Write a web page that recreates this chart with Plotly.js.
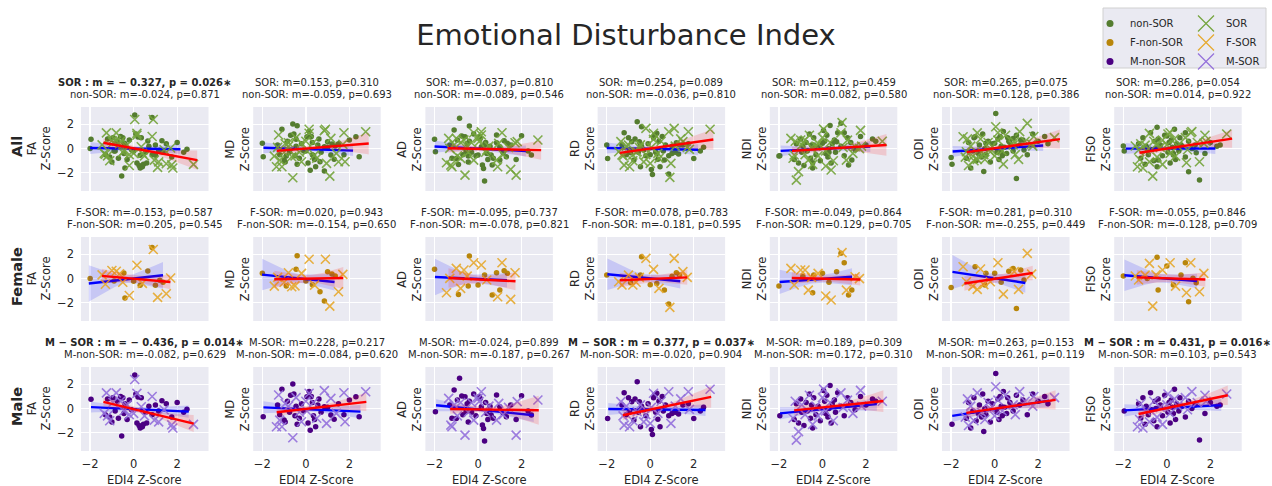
<!DOCTYPE html>
<html><head><meta charset="utf-8">
<script src="https://cdn.plot.ly/plotly-3.0.1.min.js"></script>
<style>body{margin:0;background:#fff}</style>
</head><body><div id="chart" style="width:1272px;height:486px"></div>
<script>
// ---------- DATA ----------
const metrics = ['FA','MD','AD','RD','NDI','ODI','FISO'];
const rowNames = ['All','Female','Male'];

// EDI4 z-scores (x) per group
const xFnon = [-2.0,-0.9,-0.45,-0.4,0.0,0.3,0.65,0.85,1.0,1.2,1.35];
const xFsor = [-1.45,-1.3,-1.0,-0.8,-0.65,-0.5,-0.2,0.15,0.4,0.9,1.1,1.5,1.7];
const xMnon = [-1.96,-1.3,-1.2,-1.1,-1.0,-0.95,-0.85,-0.75,-0.7,-0.6,-0.55,-0.5,-0.45,-0.4,-0.3,-0.2,-0.1,0.05,0.1,0.15,0.2,0.25,0.3,0.35,0.4,0.45,0.55,0.6,0.7,0.85,1.0,1.15,1.3,1.5,1.75,2.0,2.3,2.45];
const xMsor = [-1.35,-1.25,-1.2,-1.1,-0.95,-0.8,-0.6,-0.45,-0.3,-0.2,0.0,0.05,0.15,0.35,0.5,0.85,0.95,1.15,1.4,1.75,1.8,2.75];

// Female non-SOR z-scores
const faFnon = [0.0,-0.2,0.46,-1.6,-0.22,-0.55,0.63,2.56,-0.55,-0.14,-0.3];
const mdFnon = [0.43,-0.62,0.76,1.89,-0.2,-0.5,-1.09,-1.86,0.57,0.37,0.21];
const adFnon = [0.76,-1.31,-0.62,1.86,-0.53,0.3,-1.36,0.48,-0.95,0.65,0.43];
const rdFnon = [0.29,-0.34,0.3,1.81,-0.5,-0.4,-0.95,-2.1,0.2,0.48,0.29];
const ndiFnon = [-0.62,0.2,-1.17,0.3,0.43,-0.3,0.57,2.08,1.31,-1.36,-0.95];
const odiFnon = [-0.73,0.98,-0.53,0.43,0.43,-0.3,0.6,0.84,-2.46,0.71,-0.12];
const fisoFnon = [0.21,0.0,1.75,-0.95,1.04,-0.53,0.3,1.31,-1.91,0.02,-0.34];
// Female SOR
const faFsor = [0.3,-0.47,0.67,0.6,0.4,-0.3,-1.4,1.1,-0.4,2.4,-1.55,-1.25,0.05];
const mdFsor = [-0.62,0.1,-0.3,0.48,-0.67,-0.6,0.43,1.59,-0.54,1.59,-2.27,-1.09,0.35];
const adFsor = [-1.17,0.02,0.84,-0.81,0.71,0.2,1.31,1.12,-0.12,-1.5,1.31,-1.72,0.48];
const rdFsor = [-0.26,-0.53,0.29,-0.53,-0.3,0.1,1.67,0.76,-0.81,-2.38,1.67,0.57,0.1];
const ndiFsor = [0.84,-0.53,0.71,0.71,-0.95,0.1,0.43,-1.44,-1.77,2.14,-0.95,0.15,0.0];
const odiFsor = [0.98,-0.26,-0.62,-0.89,0.79,-0.5,-0.26,1.31,-1.28,0.57,-0.89,2.08,0.37];
const fisoFsor = [0.21,-0.12,0.29,1.25,-2.27,0.3,0.71,1.31,-0.62,-1.17,1.31,-1.09,0.43];
// Male non-SOR
const faMnon = [0.76,-0.5,0.8,-0.7,-1.1,0.9,-0.2,0.6,-0.8,1.0,-2.27,0.9,-0.4,0.4,-0.9,0.7,-0.1,2.77,1.2,-1.2,0.95,-1.4,-1.6,0.9,-1.5,-1.3,-0.3,-1.2,0.2,-0.5,0.3,-0.2,0.65,0.4,-0.7,0.5,-0.3,-0.05];
const mdMnon = [-0.67,0.3,-0.5,1.6,-0.95,-1.1,0.6,-0.3,1.1,2.03,1.2,-0.6,0.2,-1.3,-0.8,0.4,-0.2,0.98,-1.2,1.4,-1.78,1.0,0.5,-0.6,-0.9,-1.5,0.3,0.8,-0.3,0.15,0.1,-0.54,-0.89,0.4,-0.5,0.7,0.98,-0.67];
const adMnon = [-0.26,0.3,-0.8,1.53,-0.81,0.71,2.5,1.04,-0.5,0.98,-0.26,0.4,-1.1,0.6,-0.3,1.2,-0.6,0.98,0.84,0.15,-1.36,-1.64,-2.68,0.5,-0.4,-0.9,0.2,-0.53,-0.8,1.12,0.15,-0.34,-0.67,0.3,-0.9,1.06,-0.2,-0.53];
const rdMnon = [-0.81,0.3,1.31,-0.5,0.9,-0.2,0.57,-0.95,0.8,2.22,-0.3,0.57,-1.5,0.2,-0.12,-0.6,0.4,-1.72,-2.13,0.9,1.12,-0.3,1.26,-0.89,0.6,-1.5,1.0,-0.2,0.3,-0.6,-0.4,-0.3,-0.45,0.29,0.4,-0.81,-0.2,0.1];
const ndiMnon = [-0.6,-0.9,0.4,-1.2,0.8,-0.3,-1.4,0.5,-0.2,1.2,-0.8,0.3,-1.6,0.9,-0.5,0.2,-1.0,1.5,0.6,-0.4,1.1,-0.7,0.0,1.9,-1.2,0.4,0.7,-0.3,1.3,0.2,-0.6,0.9,0.5,-0.1,1.0,0.3,0.8,0.6];
const odiMnon = [-1.3,-0.8,0.5,-1.6,-0.2,0.9,-1.0,-0.4,0.3,-0.7,1.2,-1.9,0.0,-0.5,0.6,-1.1,0.4,2.9,-0.3,0.8,-0.9,1.0,0.2,-0.6,1.4,0.1,-0.4,0.9,0.5,-0.2,1.1,0.3,0.7,-0.5,1.2,0.6,1.0,0.4];
const fisoMnon = [-0.2,0.4,-0.8,0.9,-1.3,0.2,-0.5,1.3,-0.1,-1.0,0.6,0.0,-1.5,0.8,0.3,-0.6,1.1,-0.3,0.5,-1.2,0.7,0.1,-0.4,1.6,-0.9,0.4,-0.2,0.9,0.2,-0.7,0.6,0.0,0.3,-2.6,-0.4,0.5,0.2,0.3];
// Male SOR
const faMsor = [-0.4,1.3,-0.6,-1.0,0.5,1.3,0.6,-0.2,0.3,-0.5,-0.4,2.4,1.25,0.15,-0.6,1.0,-0.95,-1.1,-0.1,-1.35,-1.6,-1.3];
const mdMsor = [-1.5,1.12,-0.95,-1.5,0.4,0.2,-2.41,0.9,-0.3,-1.09,0.6,-0.2,1.26,0.5,-0.8,1.48,-1.22,0.84,-0.4,1.31,-1.09,1.39];
const adMsor = [0.84,-1.36,-1.5,0.3,-0.6,0.5,-2.19,-0.3,0.48,-0.95,0.84,0.57,1.39,-0.3,0.2,-0.95,0.43,-0.5,0.1,-2.19,0.57,0.71];
const rdMsor = [0.57,-0.6,-1.36,0.2,-1.5,-1.0,-0.26,0.3,-1.1,-0.5,-1.22,0.1,1.26,-0.4,0.6,1.39,-1.22,0.2,0.8,1.39,-0.07,1.59];
const ndiMsor = [-0.8,0.6,-2.6,-1.9,0.3,-0.5,1.1,-1.3,0.2,-0.6,0.9,1.6,-0.2,0.5,-1.0,1.3,0.1,0.7,-0.4,1.5,0.2,0.6];
const odiMsor = [-0.7,0.8,-1.4,0.2,-1.0,1.3,-0.3,-0.9,0.5,0.0,-0.6,1.8,0.7,-0.2,1.1,0.3,-0.5,1.4,0.6,0.2,1.0,0.9];
const fisoMsor = [-1.5,-0.9,0.4,-1.6,-0.2,-1.1,0.6,-0.7,0.1,-1.3,0.3,1.2,-0.4,0.8,0.2,0.9,-0.1,1.4,0.5,1.1,0.6,1.2];

// Regression lines: [x0, y0, x1, y1] per metric
const lineAllNon = [[-2.0,0.05,2.15,-0.05],[-1.95,0.07,2.17,-0.17],[-2.0,0.17,2.2,-0.2],[-2.0,0.05,2.2,-0.1],[-1.92,-0.19,2.2,0.17],[-1.93,-0.24,2.23,0.25],[-1.89,0.0,2.23,0.01]];
const lineAllSor = [[-1.39,0.48,2.92,-0.95],[-1.34,-0.19,2.89,0.42],[-1.4,0.03,2.9,-0.13],[-1.4,-0.35,2.9,0.75],[-1.4,-0.19,2.94,0.3],[-1.28,-0.29,3.0,0.78],[-1.26,-0.34,3.0,0.82]];
const lineFemNon = [[-2.06,-0.41,1.35,0.27],[-2.01,0.33,1.32,-0.28],[-1.98,0.13,1.33,-0.14],[-1.97,0.36,1.38,-0.22],[-1.97,-0.28,1.36,0.15],[-1.94,0.55,1.41,-0.36],[-1.95,0.27,1.39,-0.2]];
const lineFemSor = [[-1.46,0.22,1.69,-0.28],[-1.45,-0.06,1.72,0.05],[-1.36,0.05,1.72,-0.22],[-1.4,-0.14,1.7,0.1],[-1.41,0.05,1.74,-0.08],[-1.39,-0.41,1.75,0.46],[-1.38,0.1,1.77,-0.08]];
const lineMalNon = [[-1.96,0.12,2.53,-0.25],[-1.95,0.1,2.51,-0.25],[-1.93,0.27,2.56,-0.55],[-1.93,-0.03,2.54,-0.12],[-1.95,-0.4,2.5,0.37],[-1.95,-0.6,2.5,0.65],[-1.95,-0.15,2.5,0.3]];
const lineMalSor = [[-1.39,0.55,2.76,-1.24],[-1.34,-0.3,2.78,0.55],[-1.28,-0.03,2.79,-0.14],[-1.26,-0.55,2.8,0.96],[-1.3,-0.15,2.8,0.62],[-1.3,-0.35,2.8,0.72],[-1.3,-0.45,2.8,1.1]];
// Confidence band half-widths [left end, narrowest, right end]
const bandAllNon = [[0.5,0.15,0.4],[0.45,0.15,0.45],[0.5,0.15,0.45],[0.45,0.15,0.45],[0.45,0.15,0.45],[0.45,0.15,0.45],[0.45,0.15,0.45]];
const bandAllSor = [[0.35,0.15,0.8],[0.35,0.15,0.9],[0.35,0.15,0.8],[0.35,0.15,0.85],[0.35,0.15,0.9],[0.35,0.15,0.8],[0.35,0.15,0.75]];
const bandFemNon = [[1.5,0.3,1.1],[1.3,0.35,0.7],[1.5,0.35,0.6],[1.3,0.3,0.6],[1.0,0.3,0.7],[1.4,0.35,0.8],[1.3,0.35,0.6]];
const bandFemSor = [[0.6,0.3,0.6],[0.7,0.3,0.9],[0.8,0.3,0.75],[0.6,0.3,0.6],[0.5,0.25,0.5],[0.6,0.3,0.6],[0.6,0.3,0.6]];
const bandMalNon = [[0.45,0.18,0.5],[0.5,0.18,0.55],[0.5,0.18,0.55],[0.5,0.18,0.5],[0.5,0.18,0.55],[0.5,0.18,0.55],[0.5,0.18,0.5]];
const bandMalSor = [[0.35,0.2,0.7],[0.35,0.2,0.75],[0.4,0.2,1.2],[0.4,0.2,0.9],[0.4,0.2,0.9],[0.4,0.2,0.8],[0.4,0.2,0.8]];

// Panel statistics text
const statAllSor = ['SOR : m = − 0.327, p = 0.026∗','SOR: m=0.153, p=0.310','SOR: m=-0.037, p=0.810','SOR: m=0.254, p=0.089','SOR: m=0.112, p=0.459','SOR: m=0.265, p=0.075','SOR: m=0.286, p=0.054'];
const statAllNon = ['non-SOR: m=-0.024, p=0.871','non-SOR: m=-0.059, p=0.693','non-SOR: m=-0.089, p=0.546','non-SOR: m=-0.036, p=0.810','non-SOR: m=0.082, p=0.580','non-SOR: m=0.128, p=0.386','non-SOR: m=0.014, p=0.922'];
const statFemSor = ['F-SOR: m=-0.153, p=0.587','F-SOR: m=0.020, p=0.943','F-SOR: m=-0.095, p=0.737','F-SOR: m=0.078, p=0.783','F-SOR: m=-0.049, p=0.864','F-SOR: m=0.281, p=0.310','F-SOR: m=-0.055, p=0.846'];
const statFemNon = ['F-non-SOR: m=0.205, p=0.545','F-non-SOR: m=-0.154, p=0.650','F-non-SOR: m=-0.078, p=0.821','F-non-SOR: m=-0.181, p=0.595','F-non-SOR: m=0.129, p=0.705','F-non-SOR: m=-0.255, p=0.449','F-non-SOR: m=-0.128, p=0.709'];
const statMalSor = ['M − SOR : m = − 0.436, p = 0.014∗','M-SOR: m=0.228, p=0.217','M-SOR: m=-0.024, p=0.899','M − SOR : m = 0.377, p = 0.037∗','M-SOR: m=0.189, p=0.309','M-SOR: m=0.263, p=0.153','M − SOR : m = 0.431, p = 0.016∗'];
const statMalNon = ['M-non-SOR: m=-0.082, p=0.629','M-non-SOR: m=-0.084, p=0.620','M-non-SOR: m=-0.187, p=0.267','M-non-SOR: m=-0.020, p=0.904','M-non-SOR: m=0.172, p=0.310','M-non-SOR: m=0.261, p=0.119','M-non-SOR: m=0.103, p=0.543'];
const sigAll = [true,false,false,false,false,false,false];
const sigFem = [false,false,false,false,false,false,false];
const sigMal = [true,false,false,true,false,false,true];

const tickVals = [-2,0,2];
const legendNon = ['non-SOR','F-non-SOR','M-non-SOR'];
const legendSor = ['SOR','F-SOR','M-SOR'];

// ---------- BUILD ----------
const yFnon=[faFnon,mdFnon,adFnon,rdFnon,ndiFnon,odiFnon,fisoFnon];
const yFsor=[faFsor,mdFsor,adFsor,rdFsor,ndiFsor,odiFsor,fisoFsor];
const yMnon=[faMnon,mdMnon,adMnon,rdMnon,ndiMnon,odiMnon,fisoMnon];
const yMsor=[faMsor,mdMsor,adMsor,rdMsor,ndiMsor,odiMsor,fisoMsor];

const colNon = ['#557d30','#b8860b','#4b0082'];
const colSor = ['#74a43c','#e6a92d','#9370db'];

const rows = [
  {nonX:xFnon.concat(xMnon), nonY:yFnon.map((a,i)=>a.concat(yMnon[i])), sorX:xFsor.concat(xMsor), sorY:yFsor.map((a,i)=>a.concat(yMsor[i])),
   lN:lineAllNon,lS:lineAllSor,bN:bandAllNon,bS:bandAllSor,tS:statAllSor,tN:statAllNon,sig:sigAll},
  {nonX:xFnon, nonY:yFnon, sorX:xFsor, sorY:yFsor, lN:lineFemNon,lS:lineFemSor,bN:bandFemNon,bS:bandFemSor,tS:statFemSor,tN:statFemNon,sig:sigFem},
  {nonX:xMnon, nonY:yMnon, sorX:xMsor, sorY:yMsor, lN:lineMalNon,lS:lineMalSor,bN:bandMalNon,bS:bandMalSor,tS:statMalSor,tN:statMalNon,sig:sigMal}
];

const W=1272,H=486, FONT='DejaVu Sans', TXT='#262626';
const colL = c => 81 + 172.2*c, PW = 127.5;
const rowT = r => 107 + 130*r, PH = 84;
const fx = v => v/W, fy = v => 1 - v/H;

function bandPoly(l, w){
  const [x0,y0,x1,y1] = l, xm = (x0+x1)/2, n = 40;
  const xs=[], up=[], lo=[];
  for(let i=0;i<=n;i++){
    const x = x0 + (x1-x0)*i/n;
    const y = y0 + (y1-y0)*(x-x0)/(x1-x0);
    let t, we;
    if (x < xm){ t=(xm-x)/(xm-x0); we=w[0]; } else { t=(x-xm)/(x1-xm); we=w[2]; }
    const hw = Math.sqrt(w[1]*w[1] + (we*we - w[1]*w[1])*t*t);
    xs.push(x); up.push(y+hw); lo.push(y-hw);
  }
  return {x: xs.concat(xs.slice().reverse()), y: up.concat(lo.slice().reverse())};
}

const traces = [], annotations = [];
const layout = {
  width:W, height:H, margin:{l:0,r:0,t:0,b:0},
  paper_bgcolor:'#ffffff', plot_bgcolor:'#EAEAF2',
  hovermode:false, showlegend:true,
  font:{family:FONT, color:TXT},
  title:{text:'Emotional Disturbance Index', x:626/W, xanchor:'center', y:fy(35), yanchor:'middle',
         font:{family:FONT, size:29, color:TXT}},
  annotations, shapes:[{type:'rect', xref:'paper', yref:'paper', x0:fx(1103), x1:fx(1266), y0:fy(68), y1:fy(8),
         fillcolor:'#EAEAF2', line:{color:'#d0d0d0', width:1}, layer:'below'}],
  legend:{x:fx(1090), y:fy(9), xanchor:'left', yanchor:'top', bgcolor:'rgba(0,0,0,0)', borderwidth:0,
          font:{family:FONT, size:10, color:TXT}, itemwidth:30, tracegroupgap:0},
  legend2:{x:fx(1186), y:fy(9), xanchor:'left', yanchor:'top', bgcolor:'rgba(0,0,0,0)', borderwidth:0,
          font:{family:FONT, size:10, color:TXT}, itemwidth:30, tracegroupgap:0}
};

rows.forEach((R, r) => {
  metrics.forEach((m, c) => {
    const idx = r*7 + c + 1;
    const xa = 'x' + idx, ya = 'y' + idx;
    const L = colL(c), T = rowT(r);
    layout['xaxis' + idx] = {domain:[fx(L), fx(L+PW)], range:[-2.42,3.44], tickvals:tickVals,
      showticklabels: r===2, ticks:'', ticklabelstandoff:4, showgrid:true, gridcolor:'#ffffff', gridwidth:1.3,
      zeroline:false, showline:false, anchor:ya, fixedrange:true,
      tickfont:{family:FONT, size:11.5, color:TXT}};
    layout['yaxis' + idx] = {domain:[fy(T+PH), fy(T)], range:[-3.5,3.43], tickvals:tickVals,
      showticklabels: c===0, ticks:'', ticklabelstandoff:6, showgrid:true, gridcolor:'#ffffff', gridwidth:1.3,
      zeroline:false, showline:false, anchor:xa, fixedrange:true,
      tickfont:{family:FONT, size:11.5, color:TXT}};

    traces.push({type:'scatter', mode:'markers', x:R.nonX, y:R.nonY[c], xaxis:xa, yaxis:ya, showlegend:false,
      marker:{color:colNon[r], size:5.5, line:{width:0}}});
    const bn = bandPoly(R.lN[c], R.bN[c]);
    traces.push({type:'scatter', mode:'lines', x:bn.x, y:bn.y, fill:'toself', fillcolor:'rgba(0,0,255,0.15)',
      line:{width:0, color:'rgba(0,0,0,0)'}, xaxis:xa, yaxis:ya, showlegend:false});
    traces.push({type:'scatter', mode:'lines', x:[R.lN[c][0], R.lN[c][2]], y:[R.lN[c][1], R.lN[c][3]],
      line:{color:'#0000ff', width:2.4}, xaxis:xa, yaxis:ya, showlegend:false});
    traces.push({type:'scatter', mode:'markers', x:R.sorX, y:R.sorY[c], xaxis:xa, yaxis:ya, showlegend:false,
      marker:{symbol:'x-thin-open', color:colSor[r], size:9, opacity:0.9, line:{width:1.6}}});
    const bs = bandPoly(R.lS[c], R.bS[c]);
    traces.push({type:'scatter', mode:'lines', x:bs.x, y:bs.y, fill:'toself', fillcolor:'rgba(255,0,0,0.15)',
      line:{width:0, color:'rgba(0,0,0,0)'}, xaxis:xa, yaxis:ya, showlegend:false});
    traces.push({type:'scatter', mode:'lines', x:[R.lS[c][0], R.lS[c][2]], y:[R.lS[c][1], R.lS[c][3]],
      line:{color:'#ff0000', width:2.4}, xaxis:xa, yaxis:ya, showlegend:false});

    const cx = fx(L + PW/2);
    annotations.push({xref:'paper', yref:'paper', x:cx, y:fy(T-24.5), xanchor:'center', yanchor:'middle', showarrow:false,
      text: R.sig[c] ? '<b>' + R.tS[c] + '</b>' : R.tS[c], font:{family:FONT, size:10, color:TXT}});
    annotations.push({xref:'paper', yref:'paper', x:cx, y:fy(T-12.5), xanchor:'center', yanchor:'middle', showarrow:false,
      text: R.tN[c], font:{family:FONT, size:10, color:TXT}});
    annotations.push({xref:'paper', yref:'paper', x: c===0 ? fx(38.5) : fx(L-16), y:fy(T+PH/2), xanchor:'center', yanchor:'middle',
      showarrow:false, textangle:-90, text: m + '<br>Z-Score', font:{family:FONT, size:11.5, color:TXT}});
    if (r===2){
      annotations.push({xref:'paper', yref:'paper', x:cx, y:fy(480), xanchor:'center', yanchor:'middle', showarrow:false,
        text:'EDI4 Z-Score', font:{family:FONT, size:11.5, color:TXT}});
    }
  });
  annotations.push({xref:'paper', yref:'paper', x:fx(17), y:fy(rowT(r)+PH/2 - 2), xanchor:'center', yanchor:'middle',
    showarrow:false, textangle:-90, text:'<b>' + rowNames[r] + '</b>', font:{family:FONT, size:14.5, color:TXT}});
});

legendNon.forEach((n,i) => traces.push({type:'scatter', mode:'markers', x:[null], y:[null], name:n, legend:'legend',
  marker:{color:colNon[i], size:7}}));
legendSor.forEach((n,i) => traces.push({type:'scatter', mode:'markers', x:[null], y:[null], name:n, legend:'legend2',
  marker:{symbol:'x-thin-open', color:colSor[i], size:16, line:{width:1.2}}}));

Plotly.newPlot('chart', traces, layout, {staticPlot:true, displayModeBar:false});
</script></body></html>
